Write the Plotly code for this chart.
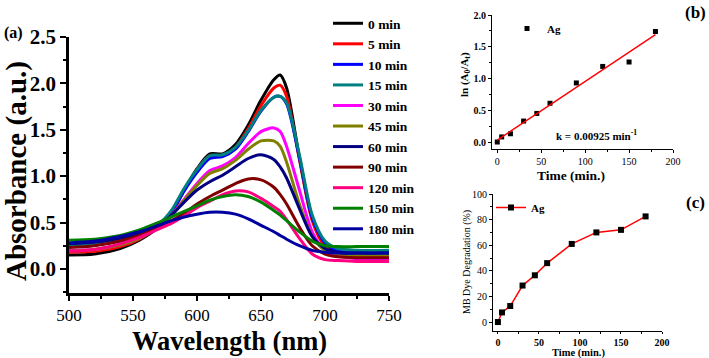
import numpy as np
import plotly.graph_objects as go

# ---------------- data ----------------
wavelength = [500, 520, 540, 555, 570, 580, 590, 600, 610, 620, 630, 640, 650, 660, 665, 670, 680, 690, 700, 710, 725, 750]

labels = ["0 min", "5 min", "10 min", "15 min", "30 min", "45 min", "60 min", "90 min", "120 min", "150 min", "180 min"]
colors = ["#000000", "#FF0000", "#0000FF", "#008080", "#FF00FF", "#808000", "#000080", "#800000", "#FF0080", "#008000", "#0000A0"]

abs_0 = [0.15, 0.16, 0.22, 0.31, 0.45, 0.60, 0.85, 1.08, 1.24, 1.24, 1.34, 1.55, 1.82, 2.04, 2.09, 1.95, 1.20, 0.55, 0.27, 0.18, 0.15, 0.15]
abs_5 = [0.18, 0.19, 0.24, 0.32, 0.46, 0.61, 0.85, 1.07, 1.22, 1.22, 1.31, 1.51, 1.76, 1.95, 1.98, 1.86, 1.18, 0.52, 0.24, 0.15, 0.13, 0.12]
abs_10 = [0.26, 0.27, 0.30, 0.36, 0.47, 0.61, 0.84, 1.04, 1.19, 1.21, 1.29, 1.48, 1.70, 1.85, 1.86, 1.78, 1.20, 0.55, 0.28, 0.20, 0.18, 0.18]
abs_15 = [0.25, 0.26, 0.30, 0.36, 0.48, 0.63, 0.87, 1.07, 1.22, 1.23, 1.31, 1.49, 1.71, 1.85, 1.86, 1.79, 1.23, 0.58, 0.30, 0.22, 0.20, 0.20]
abs_30 = [0.20, 0.21, 0.26, 0.33, 0.45, 0.58, 0.75, 0.92, 1.06, 1.11, 1.20, 1.35, 1.48, 1.52, 1.48, 1.32, 0.85, 0.40, 0.20, 0.14, 0.11, 0.10]
abs_45 = [0.19, 0.21, 0.26, 0.33, 0.45, 0.57, 0.74, 0.90, 1.03, 1.08, 1.17, 1.29, 1.38, 1.38, 1.32, 1.15, 0.70, 0.35, 0.20, 0.16, 0.15, 0.15]
abs_60 = [0.27, 0.29, 0.33, 0.38, 0.47, 0.58, 0.72, 0.85, 0.94, 1.01, 1.10, 1.19, 1.23, 1.18, 1.10, 0.98, 0.65, 0.35, 0.22, 0.18, 0.17, 0.17]
abs_90 = [0.23, 0.25, 0.30, 0.36, 0.45, 0.52, 0.60, 0.70, 0.78, 0.85, 0.92, 0.97, 0.96, 0.88, 0.80, 0.70, 0.45, 0.25, 0.16, 0.13, 0.12, 0.12]
abs_120 = [0.19, 0.21, 0.27, 0.34, 0.43, 0.49, 0.57, 0.66, 0.73, 0.80, 0.84, 0.83, 0.76, 0.67, 0.62, 0.53, 0.33, 0.16, 0.10, 0.09, 0.08, 0.08]
abs_150 = [0.31, 0.32, 0.36, 0.42, 0.50, 0.56, 0.62, 0.68, 0.74, 0.78, 0.80, 0.78, 0.72, 0.63, 0.58, 0.52, 0.40, 0.30, 0.25, 0.24, 0.24, 0.24]
abs_180 = [0.28, 0.30, 0.35, 0.40, 0.47, 0.52, 0.56, 0.59, 0.61, 0.61, 0.59, 0.54, 0.47, 0.40, 0.36, 0.32, 0.25, 0.20, 0.18, 0.17, 0.17, 0.17]

spectra = [abs_0, abs_5, abs_10, abs_15, abs_30, abs_45, abs_60, abs_90, abs_120, abs_150, abs_180]

time_min = [0, 5, 15, 30, 45, 60, 90, 120, 150, 180]
ln_ratio = [0.0, 0.08, 0.13, 0.33, 0.45, 0.61, 0.93, 1.19, 1.26, 1.74]
degradation = [0.0, 7.5, 12.5, 28.5, 36.5, 46.0, 61.0, 70.0, 72.0, 82.5]

# ---------------- figure ----------------
W, H = 709, 358
FONT = "Liberation Serif"


def px(x):
    return x / W


def py(y):
    return 1 - y / H


fig = go.Figure()

for lab, col, vals in zip(labels, colors, spectra):
    fig.add_trace(go.Scatter(
        x=wavelength, y=vals, mode="lines", name=lab,
        line=dict(color=col, width=3, shape="spline", smoothing=0.8),
        xaxis="x", yaxis="y", legend="legend"))

# panel b
fig.add_trace(go.Scatter(
    x=time_min, y=ln_ratio, mode="markers", name="Ag",
    marker=dict(symbol="square", size=5, color="black"),
    xaxis="x2", yaxis="y2", legend="legend2"))
slope, intercept = np.polyfit(time_min, ln_ratio, 1)
fit_x = [time_min[0], time_min[-1]]
fit_y = [intercept + slope * t for t in fit_x]
fig.add_trace(go.Scatter(
    x=fit_x, y=fit_y, mode="lines", showlegend=False,
    line=dict(color="red", width=1.5), xaxis="x2", yaxis="y2"))

# panel c
fig.add_trace(go.Scatter(
    x=time_min, y=degradation, mode="lines+markers", name="Ag",
    line=dict(color="red", width=1.5),
    marker=dict(symbol="square", size=6, color="black"),
    xaxis="x3", yaxis="y3", legend="legend3"))

axis_common = dict(showline=True, linecolor="black", showgrid=False, zeroline=False,
                   ticks="outside", tickcolor="black", mirror=False, automargin=False)

fig.update_layout(
    template="none",
    width=W, height=H, margin=dict(l=0, r=0, t=0, b=0, autoexpand=False),
    paper_bgcolor="white", plot_bgcolor="white",
    font=dict(family=FONT, color="black"),
    xaxis=dict(axis_common, domain=[px(69), px(389)], range=[500, 750], dtick=50,
               linewidth=2.5, tickwidth=2, ticklen=5,
               minor=dict(ticks="outside", dtick=25, ticklen=3, tickwidth=2, tickcolor="black"),
               tickfont=dict(size=17, family=FONT), anchor="y"),
    yaxis=dict(axis_common, domain=[py(293), py(37)], range=[-0.26, 2.5], dtick=0.5,
               tick0=0, tickformat=".1f",
               linewidth=2.5, tickwidth=2, ticklen=6,
               minor=dict(ticks="outside", dtick=0.25, ticklen=3, tickwidth=2, tickcolor="black"),
               tickfont=dict(size=21, family=FONT, weight="bold"), anchor="x"),
    xaxis2=dict(axis_common, domain=[px(492), px(673)], range=[-6, 200], dtick=50,
                linewidth=1.2, tickwidth=1, ticklen=3,
                minor=dict(ticks="outside", dtick=25, ticklen=2, tickcolor="black"),
                tickfont=dict(size=10, family=FONT), anchor="y2"),
    yaxis2=dict(axis_common, domain=[py(149), py(15)], range=[-0.11, 2.0], dtick=0.5,
                tick0=0, tickformat=".1f",
                linewidth=1.2, tickwidth=1, ticklen=3,
                minor=dict(ticks="outside", dtick=0.25, ticklen=2, tickcolor="black"),
                tickfont=dict(size=10, family=FONT, weight="bold"), anchor="x2"),
    xaxis3=dict(axis_common, domain=[px(493), px(662)], range=[-6, 200], dtick=50,
                linewidth=1.2, tickwidth=1, ticklen=2,
                minor=dict(ticks="outside", dtick=25, ticklen=2, tickcolor="black"),
                tickfont=dict(size=10, family=FONT, weight="bold"), anchor="y3"),
    yaxis3=dict(axis_common, domain=[py(331), py(194)], range=[-7, 100], dtick=20,
                linewidth=1.2, tickwidth=1, ticklen=3,
                minor=dict(ticks="outside", dtick=10, ticklen=2, tickcolor="black"),
                tickfont=dict(size=10, family=FONT), anchor="x3"),
    legend=dict(x=px(328), y=py(8), xanchor="left", yanchor="top",
                font=dict(size=13.5, family=FONT, weight="bold"), itemwidth=30,
                bgcolor="rgba(0,0,0,0)", tracegroupgap=0),
    legend2=dict(x=px(507), y=py(14), xanchor="left", yanchor="top",
                 font=dict(size=11, family=FONT, weight="bold"), itemwidth=30,
                 bgcolor="rgba(0,0,0,0)"),
    legend3=dict(x=px(491), y=py(193), xanchor="left", yanchor="top",
                 font=dict(size=11, family=FONT, weight="bold"), itemwidth=30,
                 bgcolor="rgba(0,0,0,0)"),
)

ann = [
    dict(text="(a)", x=px(13), y=py(33), font=dict(size=16, weight="bold")),
    dict(text="(b)", x=px(695), y=py(13), font=dict(size=17, weight="bold")),
    dict(text="(c)", x=px(695), y=py(202), font=dict(size=17, weight="bold")),
    dict(text="Absorbance (a.u.)", x=px(16), y=py(171), textangle=-90, font=dict(size=29, weight="bold")),
    dict(text="Wavelength (nm)", x=px(229), y=py(341), font=dict(size=26.5, weight="bold")),
    dict(text="ln (A<sub>0</sub>/A<sub>t</sub>)", x=px(465), y=py(75), textangle=-90, font=dict(size=11, weight="bold")),
    dict(text="Time (min.)", x=px(571), y=py(175), font=dict(size=13.5, weight="bold")),
    dict(text="k = 0.00925 min<sup>-1</sup>", x=px(596), y=py(135), font=dict(size=11, weight="bold")),
    dict(text="MB Dye Degradation (%)", x=px(467), y=py(262), textangle=-90, font=dict(size=10)),
    dict(text="Time (min.)", x=px(578), y=py(353), font=dict(size=10.5, weight="bold")),
]
for a in ann:
    a.update(xref="paper", yref="paper", showarrow=False, xanchor="center", yanchor="middle")
    a["font"]["family"] = FONT
    a["font"]["color"] = "black"
    fig.add_annotation(**a)

fig.write_html("out.html", config={"displayModeBar": False},
               post_script="document.body.style.margin='0px';document.body.style.overflow='hidden';")
